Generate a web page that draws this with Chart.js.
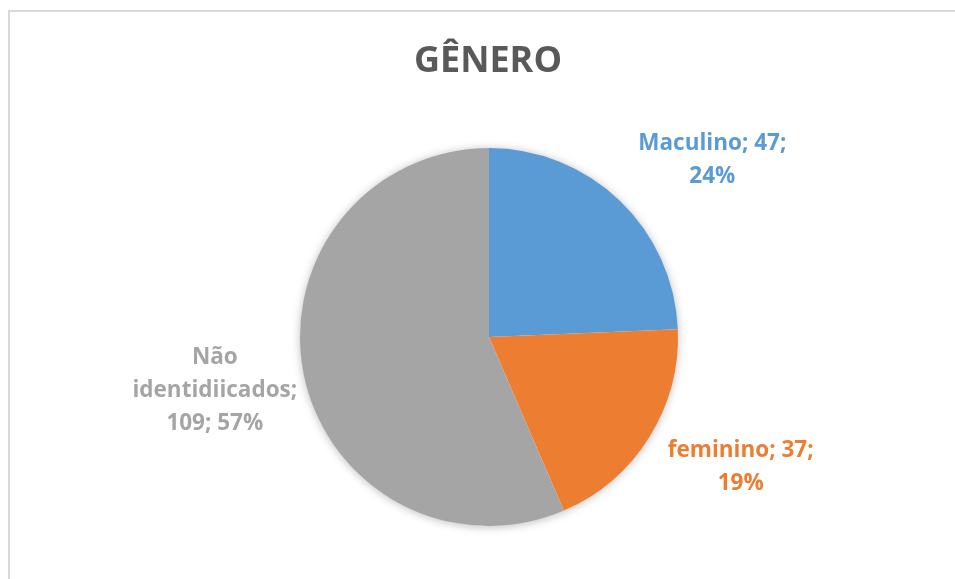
<!DOCTYPE html>
<html>
<head>
<meta charset="utf-8">
<script src="https://cdn.jsdelivr.net/npm/chart.js@4.4.1/dist/chart.umd.min.js"></script>
<style>
  html, body { margin: 0; padding: 0; background: #ffffff; overflow: hidden; }
  #wrap { position: relative; width: 955px; height: 579px; }
  #frame { position: absolute; left: 8px; top: 10px; width: 1000px; height: 700px;
           border-left: 2px solid #d9d9d9; border-top: 2px solid #d9d9d9; box-sizing: border-box; }
  #c { position: absolute; left: 0; top: 0; }
</style>
</head>
<body>
<div id="wrap">
  <div id="frame"></div>
  <canvas id="c" width="955" height="579"></canvas>
</div>
<script>
const title = 'GÊNERO';
const categories = ['Maculino', 'feminino', 'Não identidiicados'];
const counts = [47, 37, 109];
const percents = ['24%', '19%', '57%'];
const colors = ['#5B9BD5', '#ED7D31', '#A5A5A5'];
// Label line breaks (as shown in the chart)
const labelLines = [
  ['Maculino; 47;', '24%'],
  ['feminino; 37;', '19%'],
  ['Não', 'identidiicados;', '109; 57%']
];

const FONT = '"Open Sans", "DejaVu Sans", sans-serif';

const decor = {
  id: 'decor',
  beforeDatasetsDraw(chart) {
    const arc = chart.getDatasetMeta(0).data[0];
    if (!arc) return;
    const ctx = chart.ctx;
    ctx.save();
    ctx.shadowColor = 'rgba(0,0,0,0.28)';
    ctx.shadowBlur = 10;
    ctx.shadowOffsetX = 0;
    ctx.shadowOffsetY = 1;
    ctx.fillStyle = '#ffffff';
    ctx.beginPath();
    ctx.arc(arc.x, arc.y, arc.outerRadius - 0.5, 0, Math.PI * 2);
    ctx.fill();
    ctx.restore();
  },
  afterDraw(chart, args, opts) {
    const ctx = chart.ctx;
    ctx.save();
    // Title
    ctx.fillStyle = '#595959';
    ctx.font = 'bold 36px ' + FONT;
    ctx.textAlign = 'center';
    ctx.textBaseline = 'alphabetic';
    ctx.fillText(title, 488, 72);
    // Data labels
    const meta = chart.getDatasetMeta(0);
    ctx.font = 'bold 22.5px ' + FONT;
    ctx.textBaseline = 'middle';
    meta.data.forEach((el, i) => {
      const mid = (el.startAngle + el.endAngle) / 2;
      const nudge = opts.nudges[i];
      const cx = el.x + Math.cos(mid) * opts.distance + nudge[0];
      const cy = el.y + Math.sin(mid) * opts.distance + nudge[1];
      const lines = labelLines[i];
      const lh = 33;
      const y0 = cy - (lines.length - 1) * lh / 2;
      ctx.fillStyle = colors[i];
      lines.forEach((t, k) => ctx.fillText(t, cx, y0 + k * lh));
    });
    ctx.restore();
  }
};

new Chart(document.getElementById('c'), {
  type: 'pie',
  data: {
    labels: categories,
    datasets: [{
      data: counts,
      backgroundColor: colors,
      borderWidth: 0,
      hoverOffset: 0
    }]
  },
  options: {
    responsive: false,
    animation: false,
    layout: { padding: { top: 148, bottom: 53, left: 300, right: 277 } },
    plugins: {
      legend: { display: false },
      tooltip: { enabled: false },
      title: { display: false },
      decor: { distance: 282, nudges: [[28, 27], [13, -20], [2, -3]] }
    }
  },
  plugins: [decor]
});
</script>
</body>
</html>
